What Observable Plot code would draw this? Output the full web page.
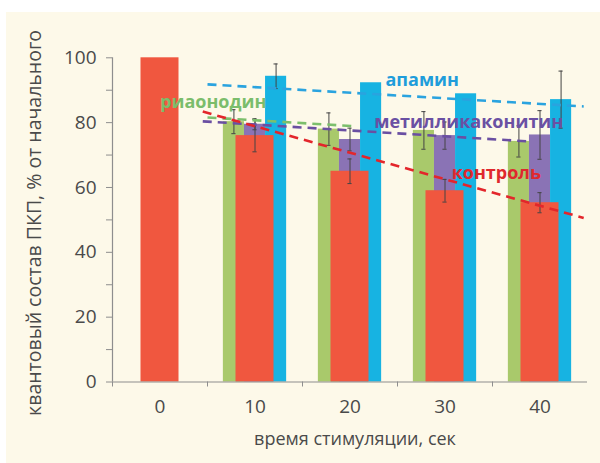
<!DOCTYPE html>
<html>
<head>
<meta charset="utf-8">
<script src="https://cdn.jsdelivr.net/npm/d3@7"></script>
<script src="https://cdn.jsdelivr.net/npm/@observablehq/plot@0.6"></script>
<style>
  html, body { margin: 0; padding: 0; background: #ffffff; overflow: hidden; }
  #chart { padding: 12px 0 0 6px; }
  #chart svg { background: #fdf9e9; display: block; }
</style>
</head>
<body>
<div id="chart"></div>
<script>
// Stimulation time, s
const times = [0, 10, 20, 30, 40];

// Quantal content of EPPs, % of the initial value (mean and error)
const control      = [100, 76.0, 65.0, 59.0, 55.3];
const controlErr   = [0, 5.0, 3.8, 3.5, 3.1];
const ryanodine    = [null, 80.3, 78.0, 77.6, 74.2];
const ryanodineErr = [null, 3.7, 5.0, 5.8, 4.8];
const mla          = [null, 79.5, 74.8, 76.0, 76.2];
const mlaErr       = [null, 1.7, 3.5, 4.2, 7.5];
const apamin       = [null, 94.3, 92.3, 88.9, 87.1];
const apaminErr    = [null, 3.8, 0, 0, 8.8];

// Series names
const seriesNames = ["контроль", "риаонодин", "метилликаконитин", "апамин"];

// Linear trends: start/end time and value
const trendX1 = [4.5, 5.0, 4.5, 5.0];
const trendY1 = [83.4, 81.6, 80.4, 91.8];
const trendX2 = [44.6, 20.5, 38.8, 44.6];
const trendY2 = [50.6, 78.9, 74.2, 85.0];

// Where each series name is written (time, value)
const labelX = [35.4, 5.6, 32.5, 27.6];
const labelY = [64.4, 86.3, 80.1, 93.0];

// Tick values
const yMajor = [0, 20, 40, 60, 80, 100];
const yMinor = [10, 30, 50, 70, 90];
const xBounds = [-5, 5, 15, 25, 35];

const barColors  = ["#f0573f", "#a9c96b", "#8a73b5", "#17b3e2"];
const lineColors = ["#e3262b", "#7cbf6c", "#6a4fa2", "#2aa3df"];
const textColors = ["#e0282d", "#7bbd6b", "#6a50a3", "#1e9ddb"];
const axisGray = "#8e8e8e";
const textGray = "#4a4a4a";

// Bars: narrow bars of the three drugs side by side, the wide control bar over them
const narrowW = 2.22;
const offsets = [-narrowW, 0, narrowW];
function rows(values, errs, offset, halfW) {
  return times.map((t, i) => ({t, v: values[i], e: errs[i], cx: t + offset, halfW}))
    .filter(d => d.v != null);
}
const ryanRows = rows(ryanodine, ryanodineErr, offsets[0], narrowW / 2);
const mlaRows  = rows(mla, mlaErr, offsets[1], narrowW / 2);
const apaRows  = rows(apamin, apaminErr, offsets[2], narrowW / 2);
const ctrlRows = rows(control, controlErr, 0, 2.0);

const errRows = [...ryanRows, ...mlaRows, ...apaRows, ...ctrlRows].filter(d => d.e > 0);
const capW = 0.22;

const trends = seriesNames.map((s, i) => ({
  s, x1: trendX1[i], y1: trendY1[i], x2: trendX2[i], y2: trendY2[i], color: lineColors[i]
}));
const labels = seriesNames.map((s, i) => ({s, x: labelX[i], y: labelY[i], color: textColors[i]}));

function barMark(data, color) {
  return Plot.rectY(data, {
    x1: d => d.cx - d.halfW, x2: d => d.cx + d.halfW, y1: 0, y2: "v", fill: color
  });
}

const chart = Plot.plot({
  width: 594,
  height: 451,
  marginLeft: 106,
  marginRight: 13,
  marginTop: 45.3,
  marginBottom: 81.5,
  style: {fontFamily: "'Open Sans', sans-serif", background: "#fdf9e9", overflow: "visible"},
  x: {domain: [-5, 45]},
  y: {domain: [0, 100]},
  marks: [
    barMark(ryanRows, barColors[1]),
    barMark(mlaRows, barColors[2]),
    barMark(apaRows, barColors[3]),
    barMark(ctrlRows, barColors[0]),
    // error bars
    Plot.ruleX(errRows, {x: "cx", y1: d => d.v - d.e, y2: d => d.v + d.e, stroke: "#444", strokeWidth: 1}),
    Plot.ruleY(errRows, {y: d => d.v + d.e, x1: d => d.cx - capW, x2: d => d.cx + capW, stroke: "#444", strokeWidth: 1}),
    Plot.ruleY(errRows, {y: d => d.v - d.e, x1: d => d.cx - capW, x2: d => d.cx + capW, stroke: "#444", strokeWidth: 1}),
    // trend lines
    Plot.link([trends[3], trends[1], trends[2], trends[0]], {
      x1: "x1", y1: "y1", x2: "x2", y2: "y2", stroke: "color",
      strokeWidth: 2.6, strokeDasharray: "9,6"
    }),
    // series names
    Plot.text(labels, {
      x: "x", y: "y", text: "s", fill: "color",
      fontSize: 18, fontWeight: "bold"
    }),
    // axes
    Plot.ruleX([-5], {y1: 0, y2: 100, stroke: axisGray, strokeWidth: 1.2}),
    Plot.ruleY([0], {x1: -5, x2: 45, stroke: axisGray, strokeWidth: 1.2}),
    Plot.axisY({ticks: yMajor, tickSize: 6, tickPadding: 10, stroke: axisGray, fill: textGray, fontSize: 19}),
    Plot.axisY({ticks: yMinor, tickSize: 6, stroke: axisGray, fill: "none"}),
    Plot.axisX({ticks: xBounds, tickSize: 5, stroke: axisGray, fill: "none"}),
    Plot.axisX({ticks: times, tickSize: 0, tickPadding: 17, fill: textGray, fontSize: 19, label: null}),
    Plot.text(["время стимуляции, сек"], {
      frameAnchor: "bottom", dy: 63, dx: 5, fontSize: 18, fill: textGray
    }),
    Plot.text(["квантовый состав ПКП, % от начального"], {
      frameAnchor: "left", textAnchor: "middle", lineAnchor: "middle", rotate: -90,
      dx: -78, dy: 3, fontSize: 19.5, fill: textGray
    })
  ]
});

document.getElementById("chart").appendChild(chart);
</script>
</body>
</html>
